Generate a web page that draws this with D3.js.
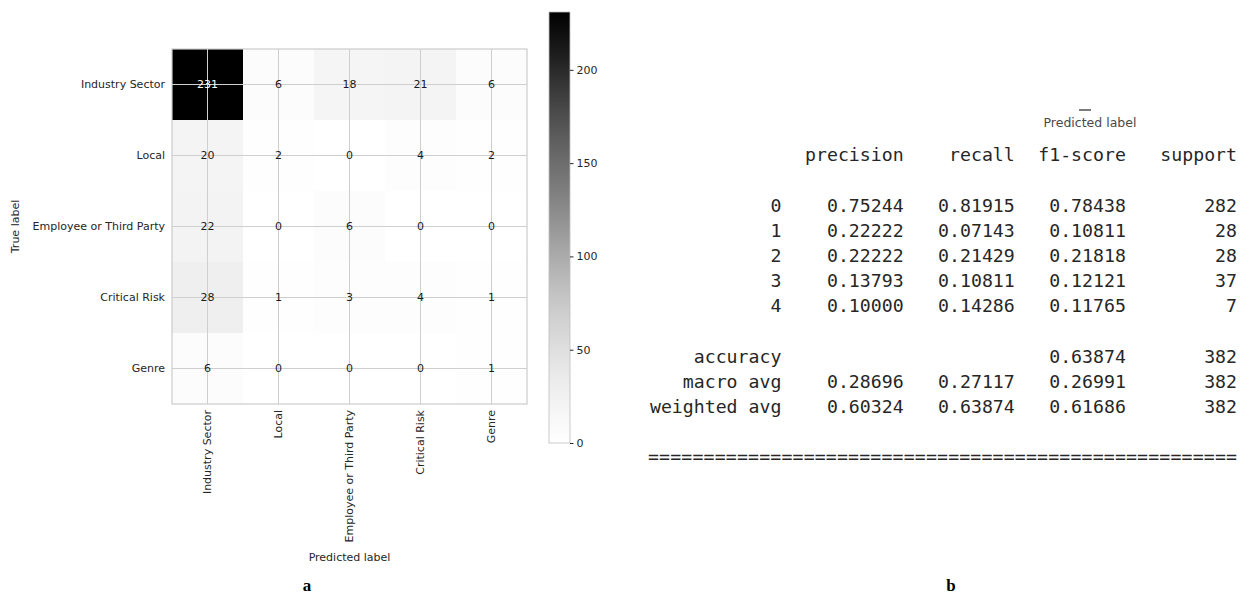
<!DOCTYPE html>
<meta charset="utf-8">
<style type="text/css">
  body { margin:0; background:#ffffff; }
  svg { display:block; }
  .lab { font-family:'DejaVu Sans', sans-serif; font-size:11px; fill:#262626; }
  .mono { font-family:'DejaVu Sans Mono', monospace; font-size:18.2px; fill:#262626; white-space:pre; }
  .cap { font-family:'Liberation Serif', 'Times New Roman', serif; font-weight:bold; font-size:17px; fill:#000; }
</style>
<script src="https://d3js.org/d3.v7.min.js"></script>
<body>
<svg id="chart" width="1249" height="597"></svg>
</body>
<script>

// confusion matrix (rows = true, cols = predicted)
var labels = ["Industry Sector", "Local", "Employee or Third Party", "Critical Risk", "Genre"]
var counts = [
  [231, 6, 18, 21, 6],
  [20, 2, 0, 4, 2],
  [22, 0, 6, 0, 0],
  [28, 1, 3, 4, 1],
  [6, 0, 0, 0, 1]
]
var cbarTicks = [0, 50, 100, 150, 200]

// classification report
var headers = ["precision", "recall", "f1-score", "support"]
var classes = ["0", "1", "2", "3", "4"]
var precision = [0.75244, 0.22222, 0.22222, 0.13793, 0.10000]
var recall = [0.81915, 0.07143, 0.21429, 0.10811, 0.14286]
var f1 = [0.78438, 0.10811, 0.21818, 0.12121, 0.11765]
var support = [282, 28, 28, 37, 7]
var avgNames = ["accuracy", "macro avg", "weighted avg"]
var avgPrecision = [null, 0.28696, 0.60324]
var avgRecall = [null, 0.27117, 0.63874]
var avgF1 = [0.63874, 0.26991, 0.61686]
var avgSupport = [382, 382, 382]

var svg = d3.select("#chart")
var vmax = d3.max(counts, function(r){ return d3.max(r) })

// ---------- panel a : confusion matrix ----------
var x = d3.scaleBand().domain(labels).range([172, 527])
var y = d3.scaleBand().domain(labels).range([49, 404])
var color = d3.scaleSequential(d3.interpolateGreys).domain([0, vmax])

var cells = []
counts.forEach(function(row, i){
  row.forEach(function(v, j){ cells.push({t: labels[i], p: labels[j], v: v}) })
})

svg.append("g").selectAll("rect")
  .data(cells)
  .enter()
  .append("rect")
  .attr("x", function(d){ return x(d.p) })
  .attr("y", function(d){ return y(d.t) })
  .attr("width", x.bandwidth())
  .attr("height", y.bandwidth())
  .attr("fill", function(d){ return color(d.v) })
  .attr("shape-rendering", "crispEdges")

// grid lines on cell centres
var grid = svg.append("g").attr("stroke", "#cfcfcf").attr("stroke-width", 1)
grid.selectAll("line.v")
  .data(labels)
  .enter()
  .append("line")
  .attr("x1", function(d){ return x(d) + x.bandwidth()/2 })
  .attr("x2", function(d){ return x(d) + x.bandwidth()/2 })
  .attr("y1", y.range()[0])
  .attr("y2", y.range()[1])
grid.selectAll("line.h")
  .data(labels)
  .enter()
  .append("line")
  .attr("y1", function(d){ return y(d) + y.bandwidth()/2 })
  .attr("y2", function(d){ return y(d) + y.bandwidth()/2 })
  .attr("x1", x.range()[0])
  .attr("x2", x.range()[1])

svg.append("rect")
  .attr("x", x.range()[0])
  .attr("y", y.range()[0])
  .attr("width", x.range()[1] - x.range()[0])
  .attr("height", y.range()[1] - y.range()[0])
  .attr("fill", "none")
  .attr("stroke", "#cccccc")
  .attr("stroke-width", 1.2)

svg.append("g").selectAll("text")
  .data(cells)
  .enter()
  .append("text")
  .attr("class", "lab")
  .attr("x", function(d){ return x(d.p) + x.bandwidth()/2 })
  .attr("y", function(d){ return y(d.t) + y.bandwidth()/2 })
  .attr("dy", "0.35em")
  .attr("text-anchor", "middle")
  .style("fill", function(d){ return d.v > vmax/2 ? "#ffffff" : "#1a1a1a" })
  .text(function(d){ return d.v })

// y tick labels
svg.append("g").selectAll("text")
  .data(labels)
  .enter()
  .append("text")
  .attr("class", "lab")
  .attr("x", 165)
  .attr("y", function(d){ return y(d) + y.bandwidth()/2 })
  .attr("dy", "0.35em")
  .attr("text-anchor", "end")
  .text(function(d){ return d })

// x tick labels (rotated)
svg.append("g").selectAll("text")
  .data(labels)
  .enter()
  .append("text")
  .attr("class", "lab")
  .attr("transform", function(d){
    return "translate(" + (x(d) + x.bandwidth()/2) + ",410) rotate(-90)"
  })
  .attr("dy", "0.35em")
  .attr("text-anchor", "end")
  .text(function(d){ return d })

svg.append("text")
  .attr("class", "lab")
  .attr("x", (x.range()[0] + x.range()[1]) / 2)
  .attr("y", 561)
  .attr("text-anchor", "middle")
  .text("Predicted label")

svg.append("text")
  .attr("class", "lab")
  .attr("transform", "translate(19," + ((y.range()[0] + y.range()[1]) / 2) + ") rotate(-90)")
  .attr("text-anchor", "middle")
  .text("True label")

// colorbar
var cy = d3.scaleLinear().domain([0, vmax]).range([443, 12])
var grad = svg.append("defs").append("linearGradient")
  .attr("id", "cbar")
  .attr("x1", "0").attr("y1", "1").attr("x2", "0").attr("y2", "0")
grad.selectAll("stop")
  .data(d3.range(0, 1.0001, 0.05))
  .enter()
  .append("stop")
  .attr("offset", function(d){ return d })
  .attr("stop-color", function(d){ return color(d * vmax) })

svg.append("rect")
  .attr("x", 549)
  .attr("y", cy(vmax))
  .attr("width", 21)
  .attr("height", cy(0) - cy(vmax))
  .attr("fill", "url(#cbar)")
  .attr("stroke", "#bdbdbd")
  .attr("stroke-width", 0.8)

var cax = svg.append("g")
  .attr("transform", "translate(570,0)")
  .call(d3.axisRight(cy).tickValues(cbarTicks).tickSize(3.5).tickPadding(3))
cax.select(".domain").remove()
cax.selectAll("line").attr("stroke", "#262626")
cax.selectAll("text").attr("class", "lab").attr("font-size", null).attr("font-family", null)

svg.append("text").attr("class", "cap").attr("x", 307).attr("y", 591).attr("text-anchor", "middle").text("a")

// ---------- panel b : classification report ----------
// character grid of the printed report
var cx = d3.scaleLinear().domain([0, 53]).range([648, 1237])
var ly = d3.scaleLinear().domain([0, 12]).range([155, 457])
var colEnd = [23, 33, 43, 53]
var fmt = d3.format(".5f")

var rep = svg.append("g")

rep.selectAll("text.hd")
  .data(headers)
  .enter()
  .append("text")
  .attr("class", "mono")
  .attr("x", function(d, i){ return cx(colEnd[i]) })
  .attr("y", ly(0))
  .attr("dy", "0.35em")
  .attr("text-anchor", "end")
  .text(function(d){ return d })

var rows = classes.map(function(c, i){
  return {name: c, line: i + 2, vals: [fmt(precision[i]), fmt(recall[i]), fmt(f1[i]), support[i]]}
})
avgNames.forEach(function(n, i){
  rows.push({name: n, line: i + 8, vals: [
    avgPrecision[i] == null ? "" : fmt(avgPrecision[i]),
    avgRecall[i] == null ? "" : fmt(avgRecall[i]),
    fmt(avgF1[i]), avgSupport[i]]})
})

var rowG = rep.selectAll("g.row")
  .data(rows)
  .enter()
  .append("g")
  .attr("transform", function(d){ return "translate(0," + ly(d.line) + ")" })

rowG.append("text")
  .attr("class", "mono")
  .attr("x", cx(12))
  .attr("dy", "0.35em")
  .attr("text-anchor", "end")
  .text(function(d){ return d.name })

rowG.selectAll("text.v")
  .data(function(d){ return d.vals })
  .enter()
  .append("text")
  .attr("class", "mono")
  .attr("x", function(d, i){ return cx(colEnd[i]) })
  .attr("dy", "0.35em")
  .attr("text-anchor", "end")
  .text(function(d){ return d })

rep.append("text")
  .attr("class", "mono")
  .attr("x", cx(0))
  .attr("y", ly(12))
  .attr("dy", "0.35em")
  .attr("textLength", cx(53) - cx(0))
  .text(d3.range(53).map(function(){ return "=" }).join(""))

// stray label from the matrix figure above the report
rep.append("text")
  .attr("class", "lab")
  .attr("x", 1090)
  .attr("y", 123)
  .attr("dy", "0.35em")
  .attr("text-anchor", "middle")
  .style("font-size", "12.5px")
  .style("fill", "#4a4a4a")
  .text("Predicted label")
rep.append("line")
  .attr("x1", 1079).attr("x2", 1091)
  .attr("y1", 110).attr("y2", 110)
  .attr("stroke", "#222").attr("stroke-width", 1.2)

svg.append("text").attr("class", "cap").attr("x", 951).attr("y", 591).attr("text-anchor", "middle").text("b")

</script>
